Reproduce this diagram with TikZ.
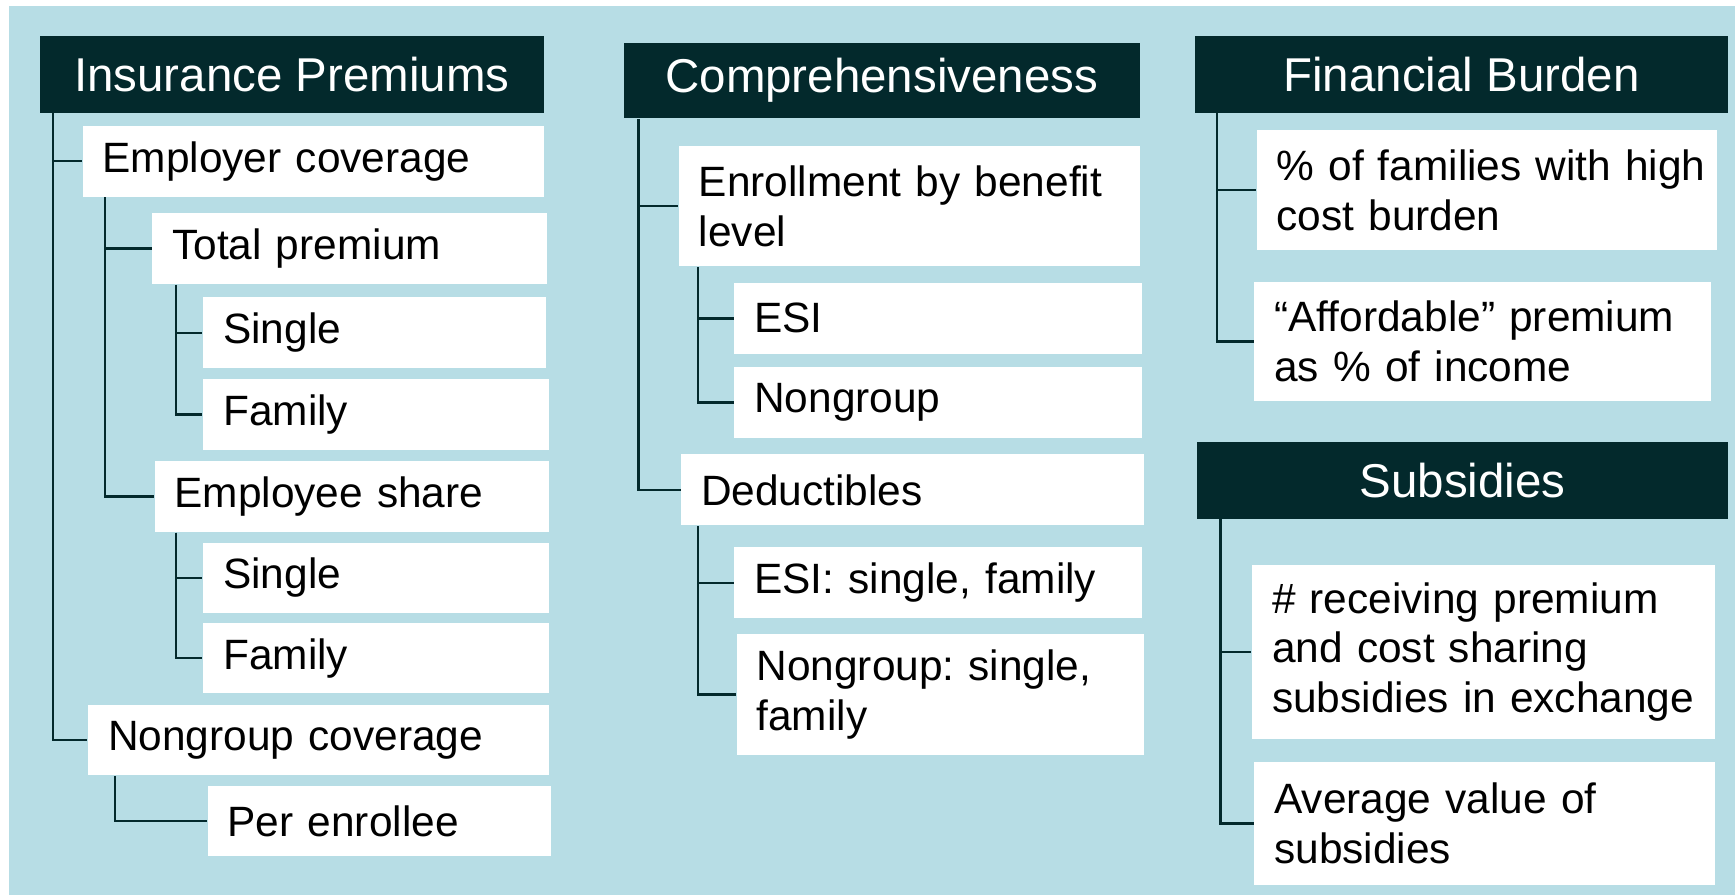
\documentclass[tikz,border=0pt]{standalone}
\usepackage{fontspec}
\setmainfont{Liberation Sans}
\usepackage{xcolor}
\usepackage{tikz}
\usetikzlibrary{calc}
\usetikzlibrary{positioning}
\definecolor{bgblue}{HTML}{B7DDE5}
\definecolor{headcol}{HTML}{03292C}
\frenchspacing
\tikzstyle{head} = [rectangle, fill=headcol, text=white, anchor=north west, inner sep=0pt, font=\fontsize{12.2}{14}\selectfont]
\tikzstyle{item} = [rectangle, fill=white, anchor=north west, inner xsep=0.18cm, inner ysep=0pt, align=left, font=\fontsize{10.9}{12.8}\selectfont]
\tikzstyle{link} = [-, draw=headcol, line width=0.6pt]

\begin{document}
\begin{tikzpicture}[x=0.01cm, y=-0.01cm]
\useasboundingbox (0, 0) rectangle (1568, 809);
\fill [bgblue] (8, 5) rectangle (1568, 809);

\node [head, minimum width=4.56cm, minimum height=0.69cm] (ip) at (35, 32) {Insurance Premiums};
\node [item, text width=3.81cm, minimum height=0.64cm] (ec) at (74, 113) {Employer coverage};
\node [item, text width=3.20cm, minimum height=0.64cm] (tp) at (137, 192) {Total premium};
\node [item, text width=2.74cm, minimum height=0.64cm] (tps) at (183, 268) {Single};
\node [item, text width=2.76cm, minimum height=0.64cm] (tpf) at (183, 342) {Family};
\node [item, text width=3.20cm, minimum height=0.64cm] (es) at (139, 416) {Employee share};
\node [item, text width=2.76cm, minimum height=0.63cm] (ess) at (183, 490) {Single};
\node [item, text width=2.76cm, minimum height=0.64cm] (esf) at (183, 562) {Family};
\node [item, text width=3.80cm, minimum height=0.64cm] (nc) at (79, 636) {Nongroup coverage};
\node [item, text width=2.74cm, minimum height=0.63cm] (pe) at (187, 710) {Per enrollee};

\node [head, minimum width=4.66cm, minimum height=0.68cm] (cp) at (563, 38) {Comprehensiveness};
\node [item, text width=3.80cm, minimum height=1.09cm] (eb) at (613, 131) {Enrollment by benefit\\level};
\node [item, text width=3.32cm, minimum height=0.64cm] (ebe) at (663, 255) {ESI};
\node [item, text width=3.32cm, minimum height=0.64cm] (ebn) at (663, 331) {Nongroup};
\node [item, text width=3.82cm, minimum height=0.64cm] (dd) at (615, 410) {Deductibles};
\node [item, text width=3.32cm, minimum height=0.64cm] (dde) at (663, 494) {ESI: single, family};
\node [item, text width=3.32cm, minimum height=1.10cm] (ddn) at (665, 572) {Nongroup: single,\\family};

\node [head, minimum width=4.82cm, minimum height=0.69cm] (fb) at (1079, 32) {Financial Burden};
\node [item, text width=3.80cm, minimum height=1.08cm] (fbh) at (1135, 117) {\mbox{\% of families with high}\\cost burden};
\node [item, text width=3.76cm, minimum height=1.08cm] (fba) at (1133, 254) {“Affordable” premium\\as \% of income};
\node [head, minimum width=4.80cm, minimum height=0.69cm] (sb) at (1081, 399) {Subsidies};
\node [item, text width=3.82cm, minimum height=1.57cm] (sbr) at (1131, 510) {\# receiving premium\\and cost sharing\\\mbox{subsidies in exchange}};
\node [item, text width=3.80cm, minimum height=1.11cm] (sba) at (1133, 688) {Average value of\\subsidies};

\draw [link] ($(ip.south west)+(13, 0)$) |- (ec.west);
\draw [link] ($(ip.south west)+(13, 0)$) |- (nc.west);
\draw [link] ($(ec.south west)+(21, 0)$) |- (tp.west);
\draw [link] ($(ec.south west)+(21, 0)$) |- (es.west);
\draw [link] ($(tp.south west)+(22, 0)$) |- (tps.west);
\draw [link] ($(tp.south west)+(22, 0)$) |- (tpf.west);
\draw [link] ($(es.south west)+(20, 0)$) |- (ess.west);
\draw [link] ($(es.south west)+(20, 0)$) |- (esf.west);
\draw [link] ($(nc.south west)+(25, 0)$) |- (pe.west);

\draw [link] ($(cp.south west)+(14, 0)$) |- (eb.west);
\draw [link] ($(cp.south west)+(14, 0)$) |- (dd.west);
\draw [link] ($(eb.south west)+(18, 0)$) |- (ebe.west);
\draw [link] ($(eb.south west)+(18, 0)$) |- (ebn.west);
\draw [link] ($(dd.south west)+(16, 0)$) |- (dde.west);
\draw [link] ($(dd.south west)+(16, 0)$) |- (ddn.west);

\draw [link] ($(fb.south west)+(21, 0)$) |- (fbh.west);
\draw [link] ($(fb.south west)+(21, 0)$) |- (fba.west);
\draw [link] ($(sb.south west)+(22, 0)$) |- (sbr.west);
\draw [link] ($(sb.south west)+(22, 0)$) |- (sba.west);
\end{tikzpicture}
\end{document}
